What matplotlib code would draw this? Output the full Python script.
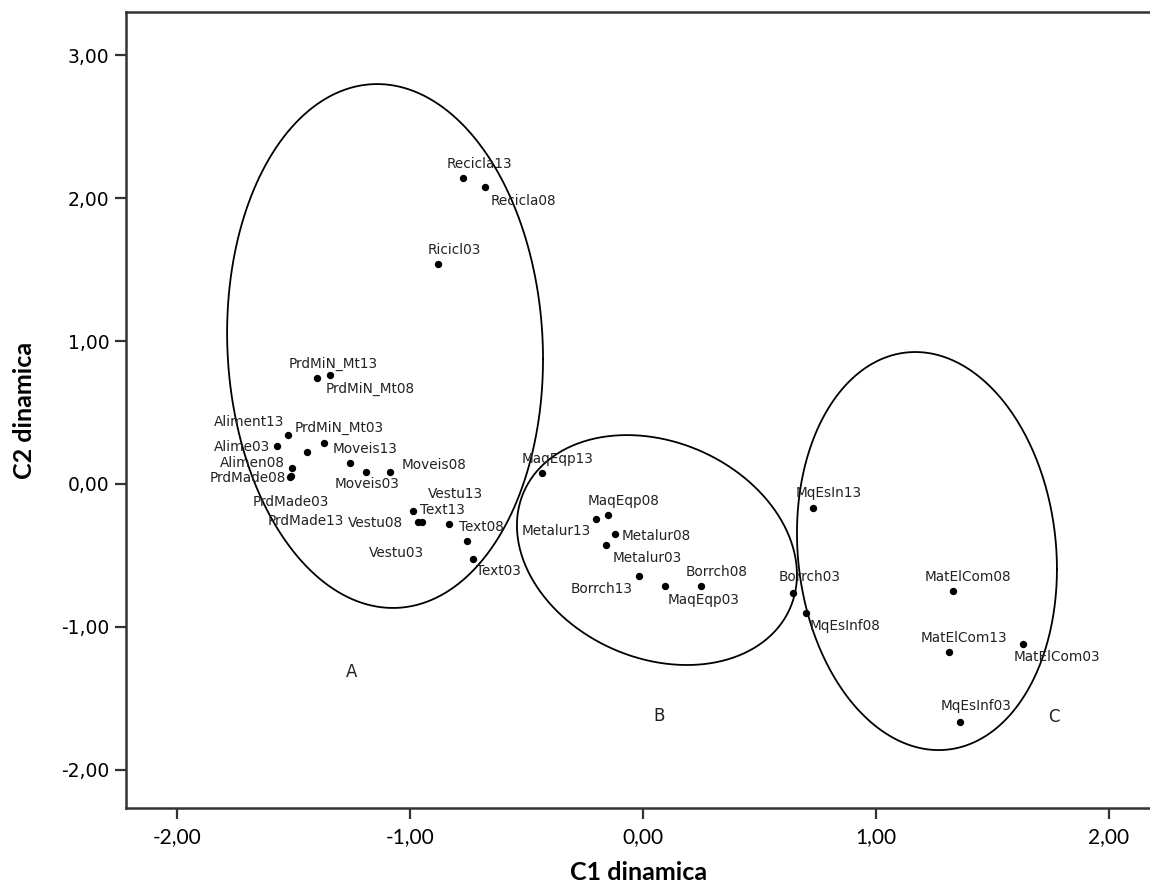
import numpy as np
import matplotlib
matplotlib.use("Agg")
import matplotlib.pyplot as plt

# ---------------- data ----------------
labels = ["Recicla13", "Recicla08", "Ricicl03",
          "PrdMiN_Mt13", "PrdMiN_Mt08", "Aliment13", "PrdMiN_Mt03", "Alime03",
          "Moveis13", "Alimen08", "PrdMade08", "Moveis08", "Moveis03",
          "PrdMade03", "PrdMade13", "Vestu13", "Text13", "Vestu08", "Text08",
          "Vestu03", "Text03",
          "MaqEqp13", "MaqEqp08", "Metalur13", "Metalur08", "Metalur03",
          "Borrch13", "MaqEqp03", "Borrch08",
          "MqEsIn13", "Borrch03", "MqEsInf08", "MatElCom08", "MatElCom13",
          "MatElCom03", "MqEsInf03"]
c1 = [-0.771, -0.677, -0.880,
      -1.400, -1.343, -1.525, -1.368, -1.570,
      -1.258, -1.505, -1.512, -1.085, -1.190,
      -1.443, -1.515, -0.986, -0.964, -0.947, -0.834,
      -0.755, -0.731,
      -0.432, -0.152, -0.203, -0.119, -0.158,
      -0.017, 0.093, 0.248,
      0.731, 0.645, 0.700, 1.332, 1.313,
      1.630, 1.359]
c2 = [2.140, 2.079, 1.538,
      0.743, 0.764, 0.343, 0.285, 0.266,
      0.149, 0.110, 0.056, 0.086, 0.086,
      0.222, 0.050, -0.189, -0.264, -0.264, -0.278,
      -0.399, -0.522,
      0.075, -0.215, -0.247, -0.350, -0.429,
      -0.641, -0.715, -0.711,
      -0.168, -0.764, -0.900, -0.748, -1.175,
      -1.117, -1.666]

x_ticks = [-2, -1, 0, 1, 2]
y_ticks = [-2, -1, 0, 1, 2, 3]
group_names = ["A", "B", "C"]

# ---------------- layout / style ----------------
# label offsets (pixels, y up) from each point to the label centre
label_offsets = [(16, 14), (38, -14), (16, 14),
                 (16, 14), (40, -14), (-39, 13), (15, 15), (-35, -1),
                 (15, 14), (-40, 5), (-43, -2), (44, 7), (1, -12),
                 (-16, -50), (16, -44), (42, 17), (24, 12), (-47, -1), (33, -3),
                 (-71, -12), (26, -12),
                 (15, 14), (16, 14), (-39, -12), (41, -2), (41, -13),
                 (-37, -13), (39, -14), (16, 14),
                 (15, 15), (16, 16), (39, -13), (15, 14), (15, 14),
                 (34, -13), (16, 16)]

# ellipses: centre x, centre y, half width, half height, tilt correlation (data units)
ellipses = [(-1.107, 0.965, 0.678, 1.832, -0.05),
            (0.060, -0.462, 0.601, 0.804, -0.214),
            (1.219, -0.469, 0.558, 1.392, -0.09)]
group_label_pos = [(-1.249, -1.315), (0.069, -1.622), (1.764, -1.629)]

W, H = 1150, 886
fig = plt.figure(figsize=(W / 100, H / 100), dpi=100)
ax = fig.add_axes([126 / W, 78 / H, 1026 / W, 796 / H])
ax.set_xlim(-2.219, 2.185)
ax.set_ylim(-2.266, 3.301)

ax.scatter(c1, c2, s=28, color="black", zorder=3, linewidths=0)

for name, x, y, (dx, dy) in zip(labels, c1, c2, label_offsets):
    ax.annotate(name, (x, y), xytext=(dx, dy), textcoords="offset pixels",
                ha="center", va="center", fontsize=9.8, color="#222222",
                family="DejaVu Sans")

t = np.linspace(0, 2 * np.pi, 400)
for cx, cy, hw, hh, rho in ellipses:
    ex = cx + hw * np.cos(t)
    ey = cy + hh * (rho * np.cos(t) + np.sqrt(1 - rho ** 2) * np.sin(t))
    ax.plot(ex, ey, color="black", lw=1.3, zorder=2)

for g, (gx, gy) in zip(group_names, group_label_pos):
    ax.text(gx, gy, g, ha="center", va="center", fontsize=12,
            family="DejaVu Sans", color="#222222")

ax.set_xticks(x_ticks)
ax.set_yticks(y_ticks)
ax.set_xticklabels([f"{v:.2f}".replace(".", ",") for v in x_ticks],
                   family="Lato", fontsize=15)
ax.set_yticklabels([f"{v:.2f}".replace(".", ",") for v in y_ticks],
                   family="DejaVu Sans", fontsize=13.5)
ax.tick_params(axis="both", direction="out", length=8, width=1.6, colors="#333333",
               labelcolor="black")
ax.tick_params(axis="x", pad=6)
ax.tick_params(axis="y", pad=4)

for side in ["left", "bottom", "top", "right"]:
    ax.spines[side].set_linewidth(1.8)
    ax.spines[side].set_color("#333333")

ax.set_xlabel("C1 dinamica", family="Lato", fontweight="bold", fontsize=18,
              labelpad=10)
ax.set_ylabel("C2 dinamica", family="Lato", fontweight="bold", fontsize=18,
              labelpad=18)

fig.savefig("out.png", dpi=100)
